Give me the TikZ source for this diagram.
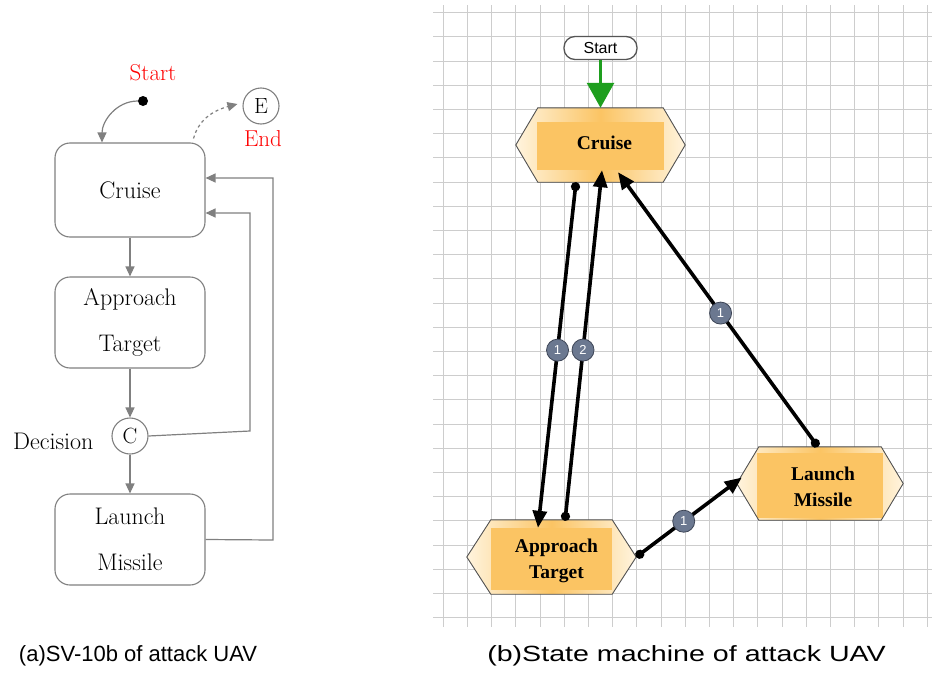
\documentclass[tikz,border=0pt]{standalone}
\usepackage{fontspec}
\newfontfamily\capfont{Liberation Sans}
\newfontfamily\rfont{Liberation Serif}
\usetikzlibrary{arrows.meta,calc}
\definecolor{lgray}{HTML}{808080}
\definecolor{gridc}{HTML}{CDCDCD}
\definecolor{hexorange}{HTML}{FBC463}
\definecolor{hexcream}{HTML}{FFF4DE}
\definecolor{hexline}{HTML}{555555}
\definecolor{lblfill}{HTML}{6B7890}
\definecolor{lbldraw}{HTML}{3D4556}
\definecolor{startgreen}{HTML}{1E9E1E}
\definecolor{redtxt}{HTML}{FF0000}
\newcommand\lfont[2]{\fontsize{#1}{#2}\selectfont\addfontfeatures{FakeBold=0.6}}
\tikzset{
  gridline/.style={draw=gridc, line width=1.1pt},
  lbox/.style={draw=lgray, line width=1.1pt, rounded corners=15pt, minimum width=150pt, align=center, font=\lfont{24}{46}},
  lcirc/.style={draw=lgray, line width=1.1pt, circle, minimum size=36pt, inner sep=0pt, font=\lfont{22}{24}},
  larrow/.style={draw=lgray, line width=1.2pt, -{Triangle[length=10pt,width=9pt]}},
  hexbox/.style={inner sep=0pt, align=center, font=\rfont\bfseries\fontsize{19.5}{26}\selectfont},
  conn/.style={draw=black, line width=3.6pt, {Circle[length=9pt]}-{Triangle[length=17pt,width=14pt]}},
  lbl/.style={circle, fill=lblfill, draw=lbldraw, line width=0.8pt, text=white, inner sep=0pt, minimum size=22pt, font=\capfont\fontsize{13}{14}\selectfont},
  pill/.style={draw=hexline, line width=1.3pt, fill=white, rounded corners=11pt, minimum width=73pt, minimum height=23pt, inner sep=0pt, font=\capfont\fontsize{16}{17}\selectfont},
  captxt/.style={font=\capfont\fontsize{22}{26}\selectfont}
}
\newcommand\hexdraw[5]{% name, inset, inner top, inner bottom, inner inset
  \fill[left color=hexcream, right color=hexcream, middle color=hexorange]
    ($(#1.north west)+(#2,0)$) -- ($(#1.north east)+(-#2,0)$) -- (#1.east) --
    ($(#1.south east)+(-#2,0)$) -- ($(#1.south west)+(#2,0)$) -- (#1.west) -- cycle;
  \fill[hexorange] ($(#1.north west)+(#5,#3)$) rectangle ($(#1.south east)+(-#5,-#4)$);
  \draw[hexline, line width=0.9pt]
    ($(#1.north west)+(#2,0)$) -- ($(#1.north east)+(-#2,0)$) -- (#1.east) --
    ($(#1.south east)+(-#2,0)$) -- ($(#1.south west)+(#2,0)$) -- (#1.west) -- cycle;
}
\begin{document}
\begin{tikzpicture}[x=1pt,y=-1pt]
\useasboundingbox (0,0) rectangle (932,680);
\fill[white] (0,0) rectangle (932,680);
% ---------- grid ----------
\foreach \i in {0,...,20} \draw[gridline] ({443.3+24.2*\i},5) -- ({443.3+24.2*\i},627);
\foreach \j in {0,...,25} \draw[gridline] (433,{12.7+24.2*\j}) -- (932,{12.7+24.2*\j});

% ---------- left panel ----------
\node[lbox, minimum height=94pt] (cruiseL) at (130,190) {Cruise};
\node[lbox, minimum height=91pt] (approachL) at (130,322.5) {Approach\\Target};
\node[lcirc] (dec) at (130,436) {C};
\node[anchor=east, font=\lfont{24}{26}] (dectxt) at (97,441) {Decision};
\node[lbox, minimum height=91pt] (launchL) at (130,539.5) {Launch\\Missile};
\node[circle, fill=black, inner sep=0pt, minimum size=10pt] (sdot) at (143,101) {};
\node[text=redtxt, font=\lfont{23}{26}] (starttxt) at (153,73) {Start};
\node[lcirc] (endc) at (261,106) {E};
\node[text=redtxt, font=\lfont{23}{26}] (endtxt) at (263,139) {End};

\draw[larrow] (sdot.west) to[out=180,in=90] ($(cruiseL.north)+(-28,0)$);
\draw[larrow, dashed] ($(cruiseL.north east)+(-12,-4)$) to[out=75,in=195] ($(endc.west)+(-5,-2)$);
\draw[larrow] (cruiseL.south) -- (approachL.north);
\draw[larrow] (approachL.south) -- (dec.north);
\draw[larrow] (dec.south) -- (launchL.north);
\draw[larrow] (dec.east) -- (250,431) -- (250,213) -- ($(cruiseL.east)+(0,23)$);
\draw[larrow] (launchL.east) -- (273,540) -- (273,178) -- ($(cruiseL.east)+(0,-12)$);

% ---------- right panel ----------
\node[hexbox, minimum width=169pt, minimum height=74pt] (cruise) at (600.5,145) {};
\node[hexbox, minimum width=169pt, minimum height=74pt] (approach) at (551.5,557) {};
\node[hexbox, minimum width=166pt, minimum height=73pt] (launch) at (820,483.5) {};
\hexdraw{cruise}{22}{14}{12}{21}
\hexdraw{approach}{24}{8}{4}{24}
\hexdraw{launch}{22}{6}{2}{20}
\node[hexbox] (cruiseT) at ($(cruise)+(4,-2)$) {Cruise};
\node[hexbox] (approachT) at ($(approach)+(5,4)$) {Approach\\Target};
\node[hexbox] (launchT) at ($(launch)+(3,3)$) {Launch\\Missile};

\node[pill] (st) at (600.5,48) {Start};
\draw[startgreen, line width=3pt, -{Triangle[length=25pt,width=27pt]}] (st.south) -- (cruise.north);

\draw[conn] ($(cruise.south)+(-24.5,0)$) -- node[lbl, pos=0.486] (l1) {1} ($(approach.north)+(-13.5,8)$);
\draw[conn] ($(approach.north)+(13.5,1)$) -- node[lbl, pos=0.487] (l2) {2} ($(cruise.south)+(1.5,-12)$);
\draw[conn] ($(launch.north)+(-2,0)$) -- node[lbl, pos=0.487] (l3) {1} ($(cruise.south)+(17.5,-10)$);
\draw[conn] (approach.east) -- node[lbl, pos=0.45] (l4) {1} ($(launch.west)+(5,-6)$);

% ---------- captions ----------
\node[captxt] (capa) at (138,656) {(a)SV-10b of attack UAV};
\node[captxt, xscale=1.3] (capb) at (686.5,656) {(b)State machine of attack UAV};
\end{tikzpicture}
\end{document}
